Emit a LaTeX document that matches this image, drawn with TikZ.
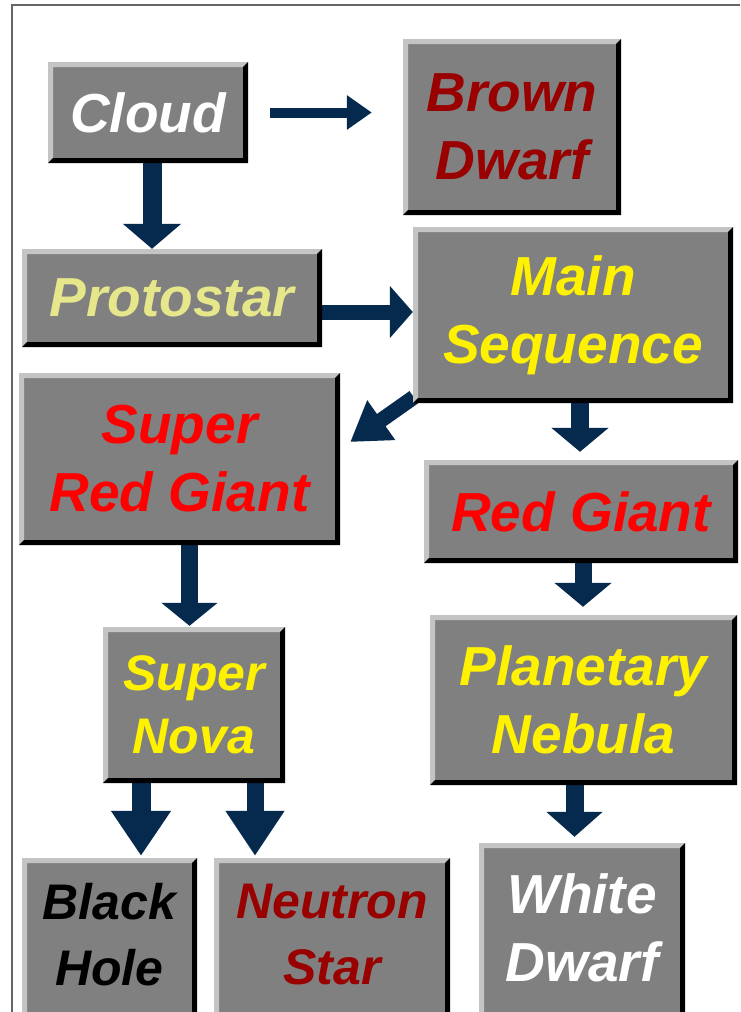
\documentclass[tikz,border=0pt]{standalone}
\usepackage{fontspec}
\setmainfont{Liberation Sans}
\usetikzlibrary{arrows.meta}
\definecolor{boxgray}{HTML}{808080}
\definecolor{bevlight}{HTML}{C4C4C4}
\definecolor{navy}{HTML}{062A4E}
\definecolor{darkred}{HTML}{990000}
\definecolor{paleyellow}{HTML}{E6E68A}
\definecolor{framegray}{HTML}{666666}
\def\pp{path picture bounding box}
\pgfdeclarelayer{paper}
\pgfdeclarelayer{links}
\pgfsetlayers{paper,links,main}
\begin{document}
\begin{tikzpicture}[x=1pt,y=-1pt,
  stagebase/.style={rectangle, inner sep=0pt, fill=boxgray, align=center,
    font=\fontsize{55}{68}\selectfont\bfseries\itshape},
  stage/.style={stagebase,
    path picture={
      \fill[bevlight] (\pp.south west) -- (\pp.north west) -- (\pp.north east)
        -- ([xshift=-5pt,yshift=-5pt]\pp.north east) -- ([xshift=5pt,yshift=-5pt]\pp.north west)
        -- ([xshift=5pt,yshift=5pt]\pp.south west) -- cycle;
      \fill[black] (\pp.north east) -- (\pp.south east) -- (\pp.south west)
        -- ([xshift=5pt,yshift=5pt]\pp.south west) -- ([xshift=-5pt,yshift=5pt]\pp.south east)
        -- ([xshift=-5pt,yshift=-5pt]\pp.north east) -- cycle;
    }},
  stageopen/.style={stagebase,
    path picture={
      \fill[bevlight] (\pp.south west) -- (\pp.north west) -- (\pp.north east)
        -- ([xshift=-5pt,yshift=-5pt]\pp.north east) -- ([xshift=5pt,yshift=-5pt]\pp.north west)
        -- ([xshift=5pt]\pp.south west) -- cycle;
      \fill[black] (\pp.north east) -- (\pp.south east) -- ([xshift=-5pt]\pp.south east)
        -- ([xshift=-5pt,yshift=-5pt]\pp.north east) -- cycle;
    }},
  small/.style={font=\fontsize{50}{66}\selectfont\bfseries\itshape},
  flow/.style n args={3}{draw=navy, line width=#1, -{Triangle[width=#2,length=#3]}}
]
\clip (0,0) rectangle (740,1012);
\begin{pgfonlayer}{paper}
\fill[white] (0,0) rectangle (740,1012);
\draw[framegray, line width=1.3pt] (12,1012) -- (12,5) -- (740,5);
\end{pgfonlayer}

% stages
\node[stage, minimum width=200pt, minimum height=101pt, text=white] (cloud) at (148,112.5) {Cloud};
\node[stage, minimum width=218pt, minimum height=176pt, text=darkred] (brown) at (512,127) {Brown\\Dwarf};
\node[stage, minimum width=300pt, minimum height=98pt, text=paleyellow] (proto) at (172,298) {Protostar};
\node[stage, minimum width=320pt, minimum height=176pt, text=yellow] (main) at (573,315) {Main\\Sequence};
\node[stage, minimum width=321pt, minimum height=172pt, text=red] (srg) at (179.5,459) {Super\\Red Giant};
\node[stage, font=\fontsize{50}{63}\selectfont\bfseries\itshape, minimum width=182pt, minimum height=156pt, text=yellow] (sn) at (194,705) {Super\\Nova};
\node[stage, minimum width=314pt, minimum height=103pt, text=red] (rg) at (581,511.5) {Red Giant};
\node[stage, minimum width=307pt, minimum height=170pt, text=yellow] (pn) at (583.5,700) {Planetary\\Nebula};
\node[stageopen, small, minimum width=175pt, minimum height=154pt, text=black] (bh) at (109.5,935) {Black\\Hole};
\node[stageopen, small, minimum width=236pt, minimum height=154pt, text=darkred] (ns) at (332,935) {Neutron\\Star};
\node[stageopen, minimum width=206pt, minimum height=169pt, text=white] (wd) at (582,927.5) {White\\Dwarf};

% connectors (behind the boxes)
\begin{pgfonlayer}{links}
\draw[flow={10pt}{33pt}{25pt}] ([xshift=22pt]cloud.east) -- ([xshift=-31pt]brown.west |- cloud.east);
\draw[flow={19pt}{57pt}{25pt}] ([xshift=4pt]cloud.south) -- ([xshift=4pt]cloud.south |- proto.north);
\draw[flow={15pt}{51pt}{23pt}] ([yshift=-14pt]proto.east) -- ([yshift=-14pt]proto.east -| main.west);
\draw[flow={15pt}{46pt}{38pt}] ([shift={(1pt,6pt)}]main.south west) -- ([shift={(10pt,17pt)}]srg.east);
\draw[flow={18pt}{56pt}{24pt}] ([xshift=7pt]main.south) -- ([xshift=7pt,yshift=8pt]main.south |- rg.north);
\draw[flow={17pt}{56pt}{24pt}] ([xshift=2pt]rg.south) -- ([xshift=2pt,yshift=8pt]rg.south |- pn.north);
\draw[flow={17pt}{55pt}{23pt}] ([xshift=10pt]srg.south) -- ([xshift=10pt,yshift=1pt]srg.south |- sn.north);
\draw[flow={19pt}{57pt}{45pt}] ([xshift=-53pt]sn.south) -- ([xshift=-53pt,yshift=2pt]sn.south |- bh.north);
\draw[flow={17pt}{56pt}{45pt}] ([xshift=61pt]sn.south) -- ([xshift=61pt,yshift=2pt]sn.south |- ns.north);
\draw[flow={18pt}{55pt}{25pt}] ([xshift=-9pt]pn.south) -- ([xshift=-9pt,yshift=6pt]pn.south |- wd.north);
\end{pgfonlayer}
\end{tikzpicture}
\end{document}
